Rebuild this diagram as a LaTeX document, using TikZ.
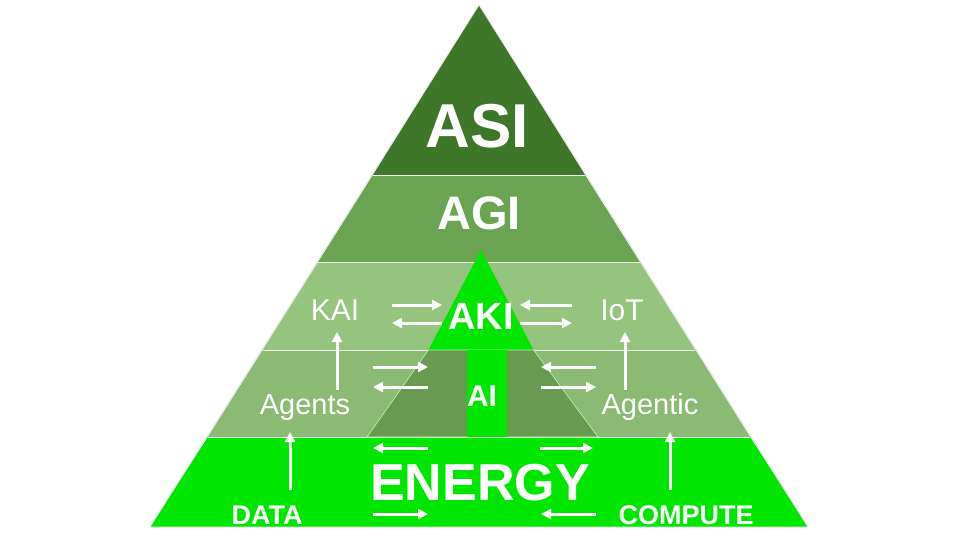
\documentclass[tikz,border=0pt]{standalone}
\usepackage{fontspec}
\setmainfont{Liberation Sans}
\usetikzlibrary{arrows.meta}
\definecolor{asi}{RGB}{62,118,42}
\definecolor{agi}{RGB}{106,164,82}
\definecolor{band3}{RGB}{148,196,126}
\definecolor{band4}{RGB}{138,186,116}
\definecolor{inner}{RGB}{104,154,82}
\definecolor{energy}{RGB}{0,230,0}
\tikzset{
  wa/.style={draw=white,line width=3pt,-{Triangle[width=10pt,length=10pt]}},
  lbl/.style={text=white,inner sep=0pt,anchor=base},
  sep/.style={draw=white!85!gray,line width=0.8pt}
}
\begin{document}
\begin{tikzpicture}[x=1pt,y=-1pt]
\useasboundingbox (0,0) rectangle (960,540);
\fill[white] (0,0) rectangle (960,540);
% bands (x_left(y)=479-0.6303(y-5))
\fill[asi]   (479,5) -- (372.9,175) -- (585.1,175) -- cycle;
\fill[agi]   (372.9,175) -- (318.1,262) -- (639.9,262) -- (585.1,175) -- cycle;
\fill[band3] (318.1,262) -- (262.6,350) -- (695.4,350) -- (639.9,262) -- cycle;
\fill[band4] (262.6,350) -- (207.8,437) -- (750.2,437) -- (695.4,350) -- cycle;
\fill[energy] (207.8,437) -- (150,527) -- (808,527) -- (750.2,437) -- cycle;
\draw[sep] (372.9,175) -- (585.1,175);
\draw[sep] (318.1,262) -- (639.9,262);
\draw[sep] (262.6,350) -- (695.4,350);
\draw[sep] (207.8,437) -- (750.2,437);
\draw[white!80!gray,line width=0.8pt] (479,5) -- (150,527) -- (808,527) -- cycle;
% inner arrow triangle
\fill[energy] (481,250) -- (428.4,350) -- (533.6,350) -- cycle;
\filldraw[fill=inner,draw=white!70!green,line width=0.6pt] (428.4,350) -- (367,437) -- (598,437) -- (533.6,350) -- cycle;
\fill[energy] (467,350) rectangle (507,437);
% texts
\node[lbl] (asi) at (477,148) {\fontsize{62}{62}\selectfont\bfseries ASI};
\node[lbl] (agi) at (479,229) {\fontsize{47}{47}\selectfont\bfseries AGI};
\node[lbl] (aki) at (481,329) {\fontsize{38}{38}\selectfont\bfseries AKI};
\node[lbl] (kai) at (335,320) {\fontsize{30}{30}\selectfont KAI};
\node[lbl] (iot) at (622,320) {\fontsize{30}{30}\selectfont IoT};
\node[lbl] (agents) at (305,414) {\fontsize{29}{29}\selectfont Agents};
\node[lbl] (agentic) at (650,414) {\fontsize{29}{29}\selectfont Agentic};
\node[lbl] (ai) at (482,406) {\fontsize{30}{30}\selectfont\bfseries AI};
\node[lbl] (energyt) at (480,500) {\fontsize{52}{52}\selectfont\bfseries ENERGY};
\node[lbl] (data) at (267,524) {\fontsize{27}{27}\selectfont\bfseries DATA};
\node[lbl] (compute) at (686,524) {\fontsize{27}{27}\selectfont\bfseries COMPUTE};
% horizontal arrows
\coordinate (a1) at (392,305); \coordinate (a2) at (442,305);
\draw[wa] (a1) -- (a2);
\coordinate (b1) at (442,323); \coordinate (b2) at (392,323);
\draw[wa] (b1) -- (b2);
\coordinate (c1) at (572,305); \coordinate (c2) at (520,305);
\draw[wa] (c1) -- (c2);
\coordinate (d1) at (520,323); \coordinate (d2) at (572,323);
\draw[wa] (d1) -- (d2);
\coordinate (e1) at (373,367); \coordinate (e2) at (428,367);
\draw[wa] (e1) -- (e2);
\coordinate (f1) at (428,387); \coordinate (f2) at (373,387);
\draw[wa] (f1) -- (f2);
\coordinate (g1) at (596,367); \coordinate (g2) at (541,367);
\draw[wa] (g1) -- (g2);
\coordinate (h1) at (541,387); \coordinate (h2) at (596,387);
\draw[wa] (h1) -- (h2);
\coordinate (i1) at (428,448); \coordinate (i2) at (373,448);
\draw[wa] (i1) -- (i2);
\coordinate (j1) at (540,448); \coordinate (j2) at (593,448);
\draw[wa] (j1) -- (j2);
\coordinate (k1) at (373,514); \coordinate (k2) at (428,514);
\draw[wa] (k1) -- (k2);
\coordinate (l1) at (596,514); \coordinate (l2) at (541,514);
\draw[wa] (l1) -- (l2);
% vertical arrows
\coordinate (m1) at (337,390); \coordinate (m2) at (337,332);
\draw[wa] (m1) -- (m2);
\coordinate (n1) at (290,490); \coordinate (n2) at (290,432);
\draw[wa] (n1) -- (n2);
\coordinate (o1) at (625,390); \coordinate (o2) at (625,332);
\draw[wa] (o1) -- (o2);
\coordinate (p1) at (670,490); \coordinate (p2) at (670,432);
\draw[wa] (p1) -- (p2);
\end{tikzpicture}
\end{document}
